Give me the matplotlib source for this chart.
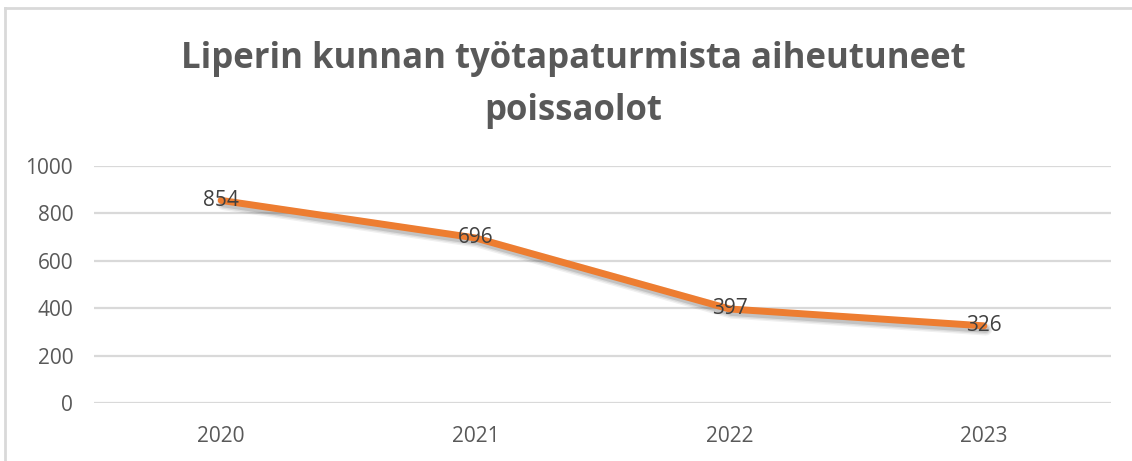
import matplotlib
matplotlib.use("Agg")
import matplotlib.pyplot as plt
import matplotlib.patheffects as pe
from matplotlib.lines import Line2D

# data
years = ["2020", "2021", "2022", "2023"]
absences = [854, 696, 397, 326]
y_ticks = [0, 200, 400, 600, 800, 1000]
title = "Liperin kunnan työtapaturmista aiheutuneet\npoissaolot"

plt.rcParams['font.family'] = ['Open Sans', 'DejaVu Sans']

W, H = 1132, 461
fig = plt.figure(figsize=(W / 100, H / 100), dpi=100)

# plot area in pixels
left, right, top, bottom = 94, 1111, 165.7, 403.3
ax = fig.add_axes([left / W, 1 - bottom / H, (right - left) / W, (bottom - top) / H])
ax.set_xlim(-0.5, len(years) - 0.5)
ax.set_ylim(0, 1000)
for s in ax.spines.values():
    s.set_visible(False)
ax.set_yticks(y_ticks)
ax.set_xticks(range(len(years)))
ax.set_xticklabels(years)
ax.tick_params(length=0, labelsize=15, labelcolor="#595959")
ax.tick_params(axis="y", pad=15)
ax.tick_params(axis="x", pad=16)
ax.grid(axis="y", color="#d9d9d9", linewidth=1.6)
ax.set_axisbelow(True)

# soft shadow: a few wide faint layers under the line
shadow = [pe.SimpleLineShadow(offset=(1.5, -2.5), shadow_color="black", alpha=a, linewidth=w)
          for a, w in [(0.06, 9), (0.08, 7), (0.12, 5)]]
xs = list(range(len(years)))
ax.plot(xs, absences, color="#ED7D31", linewidth=5, solid_capstyle="round",
        solid_joinstyle="round", path_effects=shadow + [pe.Normal()])

for x, v in zip(xs, absences):
    ax.text(x, v, str(v), ha="center", va="center", fontsize=15, color="#404040")

fig.text(573 / W, 1 - 85 / H, title, ha="center", va="center", fontsize=25,
         fontweight="bold", color="#595959", linespacing=1.6)

# chart border (top and left visible)
fig.add_artist(Line2D([5 / W, 1], [1 - 8 / H, 1 - 8 / H], color="#d9d9d9", linewidth=2))
fig.add_artist(Line2D([5 / W, 5 / W], [0, 1 - 8 / H], color="#d9d9d9", linewidth=2))

fig.savefig("out.png", dpi=100)
